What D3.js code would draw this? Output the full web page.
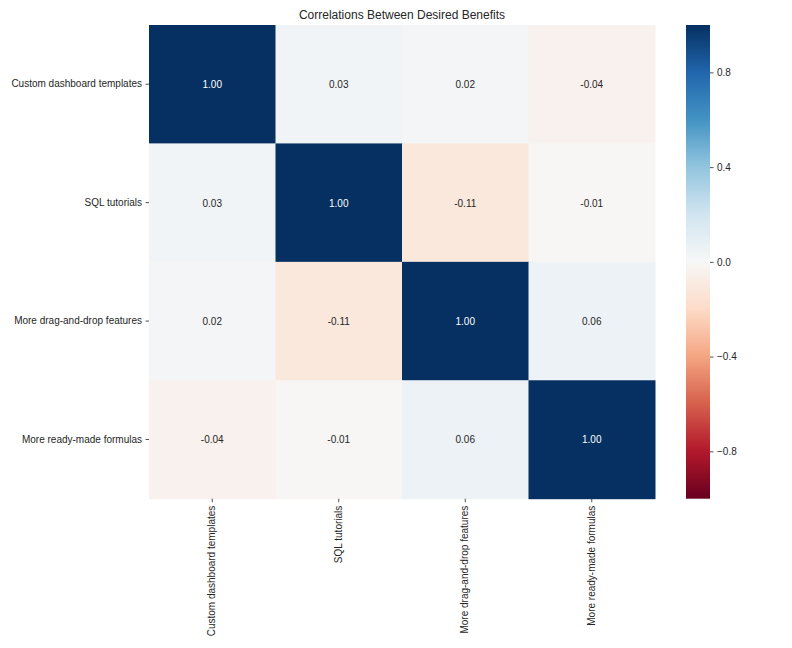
<!DOCTYPE html>
<html>
<head>
<meta charset="utf-8">
<script src="https://cdn.jsdelivr.net/npm/d3@7"></script>
<style>
  html, body { margin: 0; padding: 0; background: #fff; }
  svg { display: block; }
  text { font-family: "Liberation Sans", Arial, sans-serif; }
</style>
</head>
<body>
<svg id="chart" width="792" height="648"></svg>
<script>
const categories = ["Custom dashboard templates", "SQL tutorials", "More drag-and-drop features", "More ready-made formulas"];
const row0 = [1.00, 0.03, 0.02, -0.04];
const row1 = [0.03, 1.00, -0.11, -0.01];
const row2 = [0.02, -0.11, 1.00, 0.06];
const row3 = [-0.04, -0.01, 0.06, 1.00];
const matrix = [row0, row1, row2, row3];
const colorbarTicks = [-0.8, -0.4, 0.0, 0.4, 0.8];
const titleText = "Correlations Between Desired Benefits";

const rdbu = ["#67001f","#b2182b","#d6604d","#f4a582","#fddbc7","#f7f7f7","#d1e5f0","#92c5de","#4393c3","#2166ac","#053061"];
const color = d3.scaleLinear()
  .domain(d3.range(11).map(i => -1 + i * 0.2))
  .range(rdbu)
  .interpolate(d3.interpolateRgb)
  .clamp(true);

const svg = d3.select("#chart");
const pLeft = 149, pRight = 655, pTop = 25, pBottom = 498.7;
const textColor = "#262626";

const x = d3.scaleBand().domain(categories).range([pLeft, pRight]);
const y = d3.scaleBand().domain(categories).range([pTop, pBottom]);

const cells = [];
matrix.forEach((row, i) => row.forEach((v, j) => cells.push({r: categories[i], c: categories[j], v})));

svg.append("g").selectAll("rect").data(cells).join("rect")
  .attr("x", d => x(d.c)).attr("y", d => y(d.r))
  .attr("width", x.bandwidth() + 0.5).attr("height", y.bandwidth() + 0.5)
  .attr("fill", d => color(d.v));

function lum(c) {
  const rgb = d3.rgb(c);
  const f = v => { v /= 255; return v <= 0.03928 ? v / 12.92 : Math.pow((v + 0.055) / 1.055, 2.4); };
  return 0.2126 * f(rgb.r) + 0.7152 * f(rgb.g) + 0.0722 * f(rgb.b);
}

svg.append("g").selectAll("text").data(cells).join("text")
  .attr("x", d => x(d.c) + x.bandwidth() / 2)
  .attr("y", d => y(d.r) + y.bandwidth() / 2)
  .attr("text-anchor", "middle").attr("dy", "0.4em")
  .attr("font-size", 10)
  .attr("fill", d => lum(color(d.v)) > 0.408 ? textColor : "#ffffff")
  .text(d => d3.format(".2f")(d.v).replace("\u2212", "-"));

// Y axis
const yAxis = d3.axisLeft(y).tickSize(3.5).tickPadding(3.5);
const gy = svg.append("g").attr("transform", `translate(${pLeft},0)`).call(yAxis);
gy.select(".domain").remove();
gy.selectAll(".tick line").attr("stroke", textColor).attr("stroke-width", 0.8);
gy.selectAll(".tick text").attr("font-size", 10).attr("fill", textColor)
  .attr("font-family", "Liberation Sans, Arial, sans-serif");

// X axis
const xAxis = d3.axisBottom(x).tickSize(3.5).tickPadding(3.5);
const gx = svg.append("g").attr("transform", `translate(0,${pBottom})`).call(xAxis);
gx.select(".domain").remove();
gx.selectAll(".tick line").attr("stroke", textColor).attr("stroke-width", 0.8);
gx.selectAll(".tick text").attr("font-size", 10).attr("fill", textColor)
  .attr("font-family", "Liberation Sans, Arial, sans-serif")
  .attr("transform", "rotate(-90)")
  .attr("text-anchor", "end").attr("dy", "0.32em")
  .attr("x", -7).attr("y", 0);

// Title
svg.append("text").attr("x", (pLeft + pRight) / 2).attr("y", 18.5)
  .attr("text-anchor", "middle").attr("font-size", 12).attr("fill", textColor)
  .text(titleText);

// Colorbar
const cbLeft = 686, cbRight = 710;
const cbScale = d3.scaleLinear().domain([-1, 1]).range([pBottom, pTop]);
const defs = svg.append("defs");
const grad = defs.append("linearGradient").attr("id", "cbgrad")
  .attr("x1", 0).attr("y1", 1).attr("x2", 0).attr("y2", 0);
d3.range(0, 1.0001, 0.05).forEach(t => {
  grad.append("stop").attr("offset", t).attr("stop-color", color(-1 + 2 * t));
});
svg.append("rect").attr("x", cbLeft).attr("y", pTop)
  .attr("width", cbRight - cbLeft).attr("height", pBottom - pTop)
  .attr("fill", "url(#cbgrad)");
const cbAxis = d3.axisRight(cbScale).tickValues(colorbarTicks).tickSize(3.5).tickPadding(3.5)
  .tickFormat(d => d3.format(".1f")(d).replace("-", "\u2212"));
const gc = svg.append("g").attr("transform", `translate(${cbRight},0)`).call(cbAxis);
gc.select(".domain").remove();
gc.selectAll(".tick line").attr("stroke", textColor).attr("stroke-width", 0.8);
gc.selectAll(".tick text").attr("font-size", 10).attr("fill", textColor)
  .attr("font-family", "Liberation Sans, Arial, sans-serif");
</script>
</body>
</html>
